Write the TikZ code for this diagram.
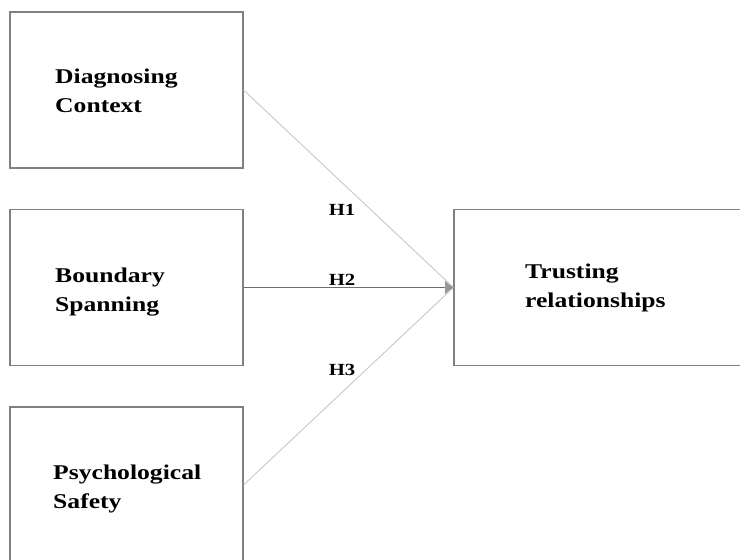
\documentclass[tikz,border=0pt]{standalone}
\usepackage{fontspec}
\setmainfont[FakeStretch=1.22]{Liberation Serif}
\usetikzlibrary{arrows.meta}
\definecolor{boxgray}{RGB}{128,128,128}
\definecolor{tipgray}{RGB}{150,150,150}
\definecolor{lightline}{RGB}{200,200,200}
\definecolor{darkline}{RGB}{110,110,110}
\begin{document}
\begin{tikzpicture}[x=1pt,y=1pt,
  cbox/.style={draw=boxgray,line width=1.1pt,fill=white,minimum width=233pt,minimum height=156pt,inner sep=0pt},
  wide/.style={cbox,minimum width=320pt},
  boxtext/.style={anchor=base west,align=left,inner sep=0pt,font=\fontsize{21}{29}\selectfont\bfseries},
  hlabel/.style={anchor=base,inner sep=0pt,font=\fontsize{17}{20}\selectfont\bfseries},
  lite/.style={draw=lightline,line width=0.9pt},
  dark/.style={draw=darkline,line width=0.8pt}]
\useasboundingbox (0,0) rectangle (740,-560);
\fill[white] (0,0) rectangle (740,-560);
\node[cbox] (dc) at (126.5,-90) {};
\node[cbox] (bs) at (126.5,-287.5) {};
\node[cbox] (ps) at (126.5,-485) {};
\node[wide] (tr) at (614,-287.5) {};
\node[boxtext] (tdc) at (55,-112) {Diagnosing\\Context};
\node[boxtext] (tbs) at (55,-311) {Boundary\\Spanning};
\node[boxtext] (tps) at (53,-508) {Psychological\\Safety};
\node[boxtext] (ttr) at (525,-307) {Trusting\\relationships};
\draw[lite] (dc.east) -- (tr.west);
\draw[lite] (ps.east) -- (tr.west);
\draw[dark,-{Latex[length=9pt,width=14pt,round,color=tipgray]}] (bs.east) -- (tr.west);
\node[hlabel] (h1) at (342,-215) {H1};
\node[hlabel] (h2) at (342,-285) {H2};
\node[hlabel] (h3) at (342,-375) {H3};
\end{tikzpicture}
\end{document}
